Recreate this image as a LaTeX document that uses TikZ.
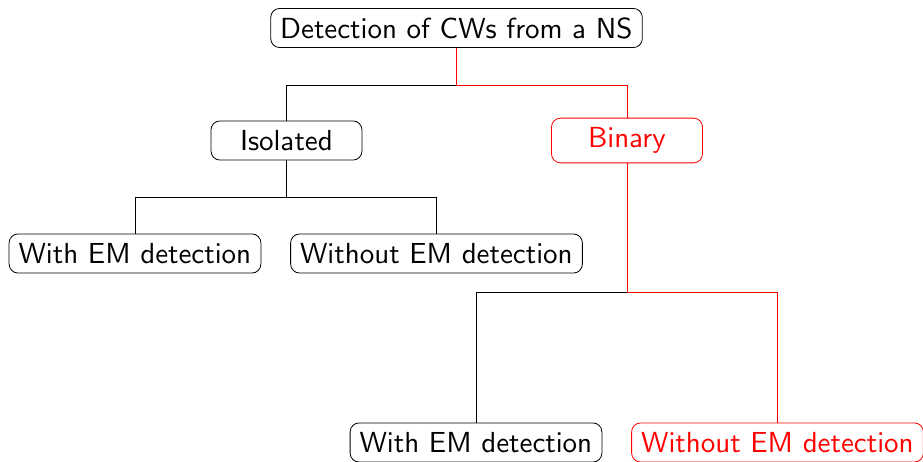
\documentclass[tikz,border=0pt]{standalone}
\usepackage{tikz}
\font\treefont=cmss10 at 29pt
\begin{document}
\begin{tikzpicture}[x=1pt,y=1pt,line width=0.8pt,
  box/.style={draw,rounded corners=9pt,inner sep=9.5pt,font=\treefont},
  widebox/.style={box,minimum width=151pt},
  hot/.style={red}]
\useasboundingbox (0,0) rectangle (923,-462);
% levels of the tree
\node[box] (root) at (456.5,-28) {Detection of CWs from a NS};
\node[widebox] (iso) at (286.5,-140.5) {Isolated};
\node[widebox,hot] (bin) at (627,-140.5) {Binary};
\node[box] (isowith) at (135,-253.5) {With EM detection};
\node[box] (isowithout) at (436.5,-253.5) {Without EM detection};
\node[box] (binwith) at (476,-442.5) {With EM detection};
\node[box,hot] (binwithout) at (777.5,-442.5) {Without EM detection};
% forked edges
\draw (root.south) -- ++(0,-37) -| (iso.north);
\draw (iso.south) -- ++(0,-37) -| (isowith.north);
\draw (iso.south) -- ++(0,-37) -| (isowithout.north);
\draw (bin.south) -- ++(0,-129.5) -| (binwith.north);
\draw[hot] (root.south) -- ++(0,-37) -| (bin.north);
\draw[hot] (bin.south) -- ++(0,-129.5) -| (binwithout.north);
\end{tikzpicture}
\end{document}
